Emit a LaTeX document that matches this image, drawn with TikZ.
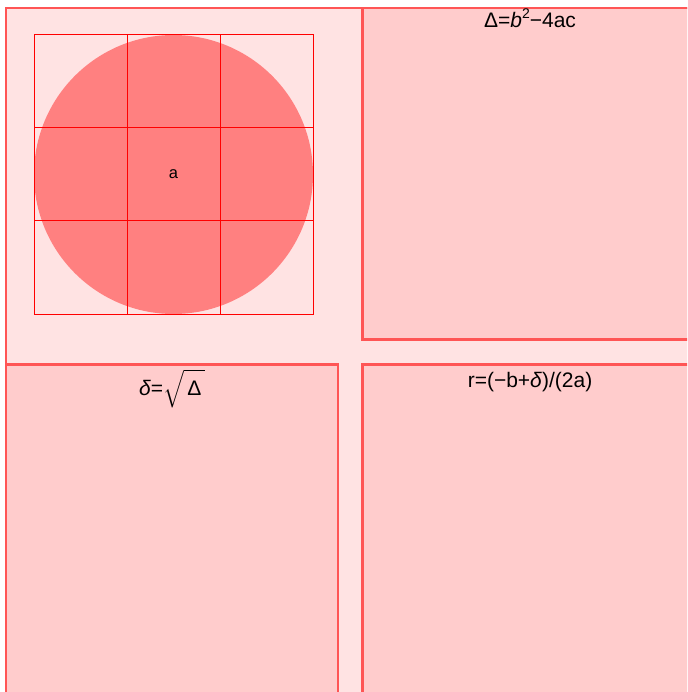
\documentclass[tikz,border=0pt]{standalone}
\usepackage{amsmath}
\usepackage{fontspec}
\setmainfont{Liberation Sans}
\definecolor{bgpink}{HTML}{FFE3E3}
\definecolor{boxpink}{HTML}{FFCCCC}
\definecolor{edgered}{HTML}{FF5555}
\definecolor{circred}{HTML}{FF8080}
\begin{document}
\begin{tikzpicture}[x=1pt,y=-1pt,
  panel/.style={fill=boxpink,draw=edgered,line width=2.4pt},
  outer/.style={fill=bgpink,draw=edgered,line width=2.4pt},
  gridline/.style={draw=red,line width=1pt},
  lbl/.style={font=\fontsize{21}{24}\selectfont,inner sep=0pt,anchor=base}]
\useasboundingbox (0,0) rectangle (687,692);
\begin{scope}
\clip (0,0) rectangle (687,692);
\path[outer] (6,8) rectangle (720,720);
\path[panel] (362.5,8) rectangle (720,339.5);
\path[panel] (6,364.5) rectangle (338,720);
\path[panel] (362.5,364.5) rectangle (720,720);
\end{scope}
\fill[circred] (173.5,174.5) circle (139.5);
\draw[gridline] (34,35) rectangle (313,314);
\draw[gridline] (127,35) -- (127,314) (220,35) -- (220,314)
  (34,128) -- (313,128) (34,221) -- (313,221);
\node[font=\fontsize{16.5}{18}\selectfont,inner sep=0pt] (a) at (173.5,174.5) {a};
\node[lbl] (d) at (530,28) {Δ=\textit{b}\raisebox{0.45em}{\fontsize{14}{16}\selectfont 2}−4ac};
\node[lbl] (s) at (172,395) {\textit{δ}=$\sqrt{\hbox{\,Δ\,}\vphantom{\big(}}$};
\node[lbl] (r) at (530,387) {r=(−b+\textit{δ})/(2a)};
\end{tikzpicture}
\end{document}
